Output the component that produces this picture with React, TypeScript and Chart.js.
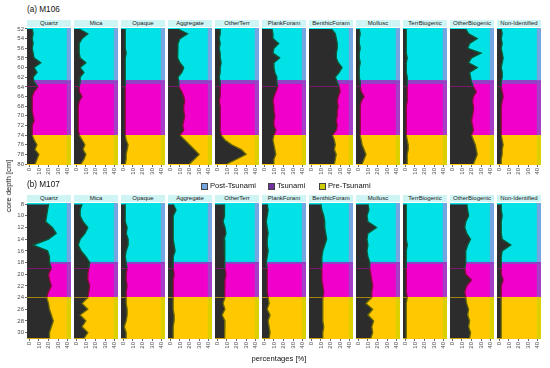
import React, { useEffect, useRef } from 'react';
import { Chart, registerables } from 'chart.js';
Chart.register(...registerables);

// ---------- data ----------
const categories = ['Quartz', 'Mica', 'Opaque', 'Aggregate', 'OtherTerr', 'PlankForam', 'BenthicForam', 'Mollusc', 'TerrBiogenic', 'OtherBiogenic', 'Non-Identified'];
const legendLabels = ['Post-Tsunami', 'Tsunami', 'Pre-Tsunami'];
const percentTicks = [0, 10, 20, 30, 40];

const depthsM106 = [52, 53, 54, 55, 56, 57, 58, 59, 60, 61, 62, 63, 64, 65, 66, 67, 68, 69, 70, 71, 72, 73, 74, 75, 76, 77, 78, 79, 80];
const depthTicksM106 = [52, 54, 56, 58, 60, 62, 64, 66, 68, 70, 72, 74, 76, 78, 80];
const depthRangeM106 = [51.8, 80.2];
// zone boundaries (depth, cm): post-tsunami end, tsunami start, pre-tsunami start
const zonesM106 = [62.6, 63.4, 74];

const depthsM107 = [8, 9, 10, 11, 12, 13, 14, 15, 16, 17, 18, 19, 20, 21, 22, 23, 24, 25, 26, 27, 28, 29, 30, 31];
const depthTicksM107 = [8, 10, 12, 14, 16, 18, 20, 22, 24, 26, 28, 30];
const depthRangeM107 = [7.8, 31.1];
const zonesM107 = [17.9, 18.25, 23.9];

const m106Quartz = [3, 4, 3, 4, 3, 4, 5, 12, 5, 8, 4, 5, 9, 5, 3, 3, 3, 3, 4, 5, 3, 3, 3, 5, 8, 6, 10, 8, 6];
const m106Mica = [3, 12, 6, 3, 3, 3, 4, 10, 4, 8, 4, 4, 3, 3, 6, 3, 2, 2, 2, 2, 2, 2, 3, 6, 9, 7, 10, 8, 5];
const m106Opaque = [2, 2, 2, 2, 2, 3, 2, 2, 2, 2, 2, 2, 2, 2, 2, 2, 2, 2, 2, 2, 2, 2, 2, 3, 5, 4, 3, 3, 2];
const m106Aggregate = [8, 18, 10, 8, 8, 7, 8, 10, 14, 12, 8, 9, 9, 12, 14, 15, 14, 14, 15, 14, 13, 14, 10, 15, 20, 25, 30, 25, 20];
const m106OtherTerr = [3, 3, 2, 3, 2, 3, 3, 4, 3, 3, 2, 3, 3, 3, 3, 2, 3, 3, 3, 3, 3, 3, 4, 8, 15, 25, 30, 20, 10];
const m106PlankForam = [8, 9, 9, 15, 10, 9, 16, 10, 10, 11, 13, 13, 14, 12, 10, 9, 10, 10, 11, 10, 10, 12, 10, 9, 10, 11, 12, 10, 10];
const m106BenthicForam = [21, 25, 26, 27, 27, 26, 26, 28, 32, 29, 25, 27, 29, 30, 28, 27, 28, 27, 27, 26, 27, 26, 22, 24, 25, 24, 26, 25, 24];
const m106Mollusc = [1, 2, 1, 1, 2, 1, 1, 2, 1, 1, 1, 2, 2, 3, 6, 3, 2, 2, 2, 2, 2, 2, 2, 3, 4, 6, 8, 6, 4];
const m106TerrBiogenic = [1, 1, 1, 1, 1, 1, 2, 1, 1, 1, 2, 2, 2, 2, 2, 2, 1, 1, 1, 1, 1, 1, 1, 2, 3, 3, 2, 2, 2];
const m106OtherBiogenic = [14, 17, 26, 18, 16, 30, 20, 17, 26, 18, 19, 20, 22, 25, 22, 21, 22, 22, 21, 20, 21, 22, 20, 22, 24, 25, 26, 24, 22];
const m106NonIdentified = [2, 3, 2, 3, 2, 3, 4, 3, 2, 3, 3, 2, 2, 3, 4, 3, 2, 2, 2, 2, 2, 2, 2, 3, 4, 3, 3, 2, 2];

const m107Quartz = [20, 19, 18, 17, 24, 28, 20, 4, 19, 21, 21, 23, 20, 21, 23, 20, 18, 20, 21, 23, 25, 23, 21, 21];
const m107Mica = [6, 4, 4, 7, 12, 9, 4, 2, 5, 10, 14, 13, 12, 12, 14, 13, 12, 6, 12, 4, 10, 6, 12, 8];
const m107Opaque = [2, 2, 2, 2, 4, 3, 5, 5, 3, 2, 3, 4, 3, 3, 4, 3, 3, 3, 4, 4, 3, 1, 3, 3];
const m107Aggregate = [3, 6, 3, 3, 3, 3, 3, 4, 5, 3, 3, 3, 4, 3, 3, 3, 3, 3, 3, 4, 4, 3, 3, 3];
const m107OtherTerr = [7, 8, 7, 6, 8, 9, 7, 8, 7, 8, 8, 8, 9, 8, 8, 7, 8, 6, 8, 5, 8, 7, 8, 8];
const m107PlankForam = [3, 4, 3, 2, 3, 4, 3, 3, 4, 3, 2, 3, 3, 3, 3, 3, 4, 5, 3, 6, 4, 5, 6, 5];
const m107BenthicForam = [10, 11, 13, 14, 14, 15, 16, 14, 12, 11, 11, 11, 11, 11, 12, 13, 12, 12, 12, 12, 12, 13, 12, 12];
const m107Mollusc = [10, 11, 9, 10, 19, 10, 9, 10, 9, 10, 12, 12, 13, 14, 15, 14, 14, 8, 15, 10, 16, 14, 15, 13];
const m107TerrBiogenic = [1, 1, 1, 1, 1, 1, 1, 2, 1, 1, 1, 1, 1, 1, 1, 1, 2, 1, 1, 1, 1, 1, 1, 1];
const m107OtherBiogenic = [15, 16, 17, 14, 13, 15, 19, 16, 14, 14, 14, 13, 14, 20, 15, 13, 14, 15, 17, 16, 18, 17, 19, 18];
const m107NonIdentified = [2, 2, 3, 2, 2, 2, 3, 12, 3, 2, 2, 2, 2, 4, 2, 2, 2, 2, 2, 2, 2, 2, 2, 2];

const seriesM106 = [m106Quartz, m106Mica, m106Opaque, m106Aggregate, m106OtherTerr, m106PlankForam, m106BenthicForam, m106Mollusc, m106TerrBiogenic, m106OtherBiogenic, m106NonIdentified];
const seriesM107 = [m107Quartz, m107Mica, m107Opaque, m107Aggregate, m107OtherTerr, m107PlankForam, m107BenthicForam, m107Mollusc, m107TerrBiogenic, m107OtherBiogenic, m107NonIdentified];

// ---------- layout / style ----------
const FONT = '"Liberation Sans", Arial, Helvetica, sans-serif';
const X_MIN = -2.4;
const X_MAX = 43.4;
const ZONE_X_END = 39;
const PANEL_X0 = 27;
const PANEL_PITCH = 47;
const PANEL_W = 44;
const YAX_W = 27;
const PAD_TOP = 6;
const XAX_H = 16;

const COL = {
  post: '#00E2E6', postStrip: '#74A6E2',
  band: '#9242C4',
  tsu: '#F000CA', tsuStrip: '#A43EC6',
  pre: '#FFC800', preStrip: '#DCD000',
  dark: '#2C2C2C',
  edgePost: '#0A5A36', edgeTsu: '#8A0A3C', edgePre: '#6E6A00',
  header: '#CFF4F4',
};

const rows = [
  { key: 'a', title: '(a) M106', depths: depthsM106, ticks: depthTicksM106, range: depthRangeM106, zones: zonesM106, series: seriesM106, plotTop: 28, plotH: 137 },
  { key: 'b', title: '(b) M107', depths: depthsM107, ticks: depthTicksM107, range: depthRangeM107, zones: zonesM107, series: seriesM107, plotTop: 203, plotH: 136 },
];

const zonePlugin = {
  id: 'zoneBands',
  beforeDatasetsDraw(chart: any, _args: any, opts: any) {
    const { ctx, chartArea, scales } = chart;
    const x = scales.x, y = scales.y;
    const [min, max] = opts.range;
    const [postEnd, tsuStart, preStart] = opts.zones;
    const bands = [
      { from: min, to: postEnd, c: COL.post, s: COL.postStrip },
      { from: postEnd, to: tsuStart, c: COL.band, s: COL.band },
      { from: tsuStart, to: preStart, c: COL.tsu, s: COL.tsuStrip },
      { from: preStart, to: max, c: COL.pre, s: COL.preStrip },
    ];
    ctx.save();
    ctx.beginPath();
    ctx.rect(chartArea.left, chartArea.top, chartArea.right - chartArea.left, chartArea.bottom - chartArea.top);
    ctx.clip();
    const xl = x.getPixelForValue(X_MIN), xm = x.getPixelForValue(ZONE_X_END), xr = x.getPixelForValue(X_MAX);
    for (const b of bands) {
      const y0 = y.getPixelForValue(b.from), y1 = y.getPixelForValue(b.to);
      ctx.fillStyle = b.s;
      ctx.fillRect(xl, y0, xr - xl, y1 - y0);
      ctx.fillStyle = b.c;
      ctx.fillRect(xl, y0, xm - xl, y1 - y0);
    }
    ctx.restore();
  },
};

function makeConfig(row: any, idx: number): any {
  const vals: number[] = row.series[idx];
  const first = idx === 0;
  const [, tsuStart, preStart] = row.zones;
  const edge = (d: number) => (d < tsuStart ? COL.edgePost : d < preStart ? COL.edgeTsu : COL.edgePre);
  return {
    type: 'line',
    data: {
      datasets: [{
        label: categories[idx],
        data: row.depths.map((d: number, i: number) => ({ x: vals[i], y: d })),
        backgroundColor: COL.dark,
        borderColor: COL.edgePost,
        borderWidth: 1.3,
        segment: { borderColor: (c: any) => edge(c.p0.parsed.y) },
        fill: { value: X_MIN },
        pointRadius: 0,
        tension: 0,
      }],
    },
    options: {
      indexAxis: 'y',
      animation: false,
      responsive: false,
      events: [],
      layout: { padding: { top: PAD_TOP, left: 0, right: 0, bottom: 0 }, autoPadding: false },
      plugins: {
        legend: { display: false },
        tooltip: { enabled: false },
        zoneBands: { range: row.range, zones: row.zones },
      },
      scales: {
        x: {
          type: 'linear', min: X_MIN, max: X_MAX,
          afterBuildTicks: (a: any) => { a.ticks = percentTicks.map((v) => ({ value: v })); },
          afterFit: (a: any) => { a.height = XAX_H; a.paddingLeft = 0; a.paddingRight = 0; },
          ticks: { minRotation: 90, maxRotation: 90, autoSkip: false, padding: 1, color: '#4d4d4d', font: { size: 6, family: FONT } },
          grid: { drawOnChartArea: false, drawTicks: true, tickLength: 2, color: '#666' },
          border: { display: false },
        },
        y: {
          type: 'linear', reverse: true, min: row.range[0], max: row.range[1], display: first,
          afterBuildTicks: (a: any) => { a.ticks = row.ticks.map((v: number) => ({ value: v })); },
          afterFit: (a: any) => { a.width = first ? YAX_W : 0; a.paddingTop = 0; a.paddingBottom = 0; },
          ticks: { autoSkip: false, padding: 1, color: '#4d4d4d', font: { size: 6, family: FONT } },
          grid: { drawOnChartArea: false, drawTicks: true, tickLength: 2, color: '#666' },
          border: { display: false },
        },
      },
    },
    plugins: [zonePlugin],
  };
}

export default function App() {
  const refs = useRef<(HTMLCanvasElement | null)[]>([]);

  useEffect(() => {
    const charts: Chart[] = [];
    rows.forEach((row, r) => {
      row.series.forEach((_s, i) => {
        const cv = refs.current[r * categories.length + i];
        if (cv) charts.push(new Chart(cv, makeConfig(row, i)));
      });
    });
    return () => charts.forEach((c) => c.destroy());
  }, []);

  const legendColors = [COL.postStrip, '#7030A0', '#CCCC00'];
  const legendX = [201, 268, 319];

  return (
    <div style={{ position: 'absolute', left: 0, top: 0, width: 550, height: 368, background: '#fff', fontFamily: FONT, overflow: 'hidden' }}>
      {rows.map((row, r) => (
        <React.Fragment key={row.key}>
          <div style={{ position: 'absolute', left: 27, top: row.plotTop - 23, fontSize: 8.2, lineHeight: '10px', color: '#111', whiteSpace: 'nowrap' }}>{row.title}</div>
          {categories.map((cat, i) => {
            const px = PANEL_X0 + i * PANEL_PITCH;
            const first = i === 0;
            const w = PANEL_W + (first ? YAX_W : 0);
            const h = PAD_TOP + row.plotH + XAX_H;
            return (
              <React.Fragment key={cat}>
                <div style={{ position: 'absolute', left: px, top: row.plotTop - 8, width: PANEL_W, height: 7, background: COL.header, fontSize: 6, lineHeight: '7px', textAlign: 'center', color: '#1a1a1a', whiteSpace: 'nowrap' }}>{cat}</div>
                <canvas
                  ref={(el) => { refs.current[r * categories.length + i] = el; }}
                  width={w}
                  height={h}
                  style={{ position: 'absolute', left: px - (first ? YAX_W : 0), top: row.plotTop - PAD_TOP, width: w, height: h }}
                />
              </React.Fragment>
            );
          })}
        </React.Fragment>
      ))}
      {legendLabels.map((lab, i) => (
        <React.Fragment key={lab}>
          <div style={{ position: 'absolute', left: legendX[i], top: 183, width: 5, height: 5, background: legendColors[i], border: '1px solid #444' }} />
          <div style={{ position: 'absolute', left: legendX[i] + 9, top: 181, fontSize: 7.6, lineHeight: '10px', color: '#111', whiteSpace: 'nowrap' }}>{lab}</div>
        </React.Fragment>
      ))}
      <div style={{ position: 'absolute', left: 9, top: 186, transform: 'translate(-50%, -50%) rotate(-90deg)', fontSize: 7.6, lineHeight: '10px', color: '#111', whiteSpace: 'nowrap' }}>core depth [cm]</div>
      <div style={{ position: 'absolute', left: 279, top: 359, transform: 'translate(-50%, -50%)', fontSize: 7.6, lineHeight: '10px', color: '#111', whiteSpace: 'nowrap' }}>percentages [%]</div>
    </div>
  );
}
